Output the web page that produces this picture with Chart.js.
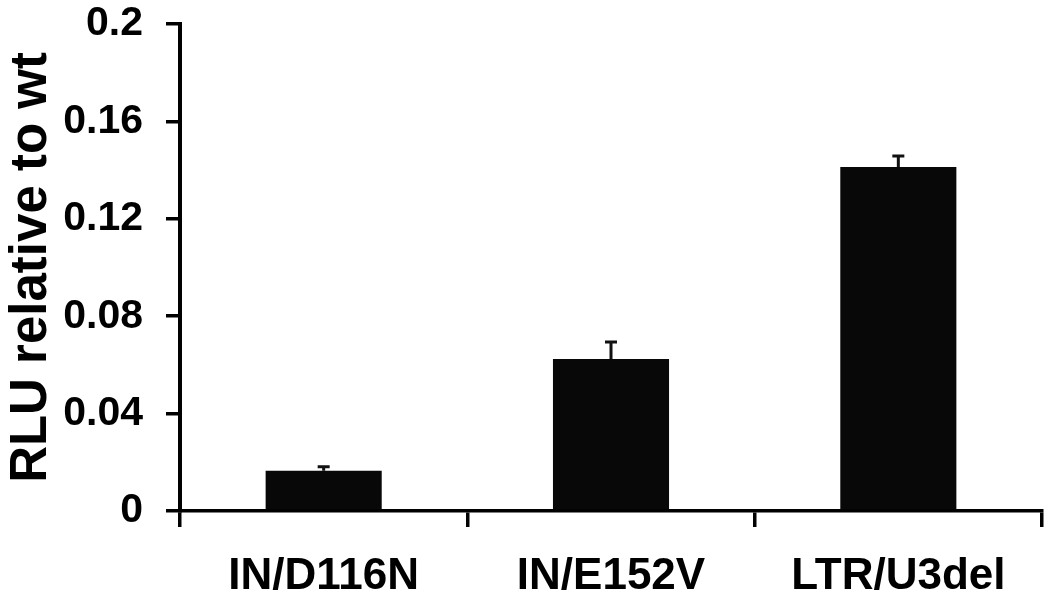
<!DOCTYPE html>
<html>
<head>
<meta charset="utf-8">
<script src="https://cdn.jsdelivr.net/npm/chart.js@4/dist/chart.umd.min.js"></script>
<style>
  html, body { margin: 0; padding: 0; background: #ffffff; }
  #wrap { width: 1050px; height: 600px; position: relative; }
</style>
</head>
<body>
<div id="wrap"><canvas id="c" width="1050" height="600"></canvas></div>
<script>
const categories = ['IN/D116N', 'IN/E152V', 'LTR/U3del'];
const rluValues = [0.0165, 0.0624, 0.1413];
const rluErrors = [0.0017, 0.0070, 0.0045];
const yMin = 0;
const yMax = 0.2;
const yStep = 0.04;
const yTitle = 'RLU relative to wt';

const FONT = '"Liberation Sans", Arial, Helvetica, sans-serif';

const errorBarPlugin = {
  id: 'errorBars',
  afterDatasetsDraw(chart) {
    const ctx = chart.ctx;
    const yScale = chart.scales.y;
    const meta = chart.getDatasetMeta(0);
    ctx.save();
    ctx.strokeStyle = '#111111';
    ctx.lineWidth = 3;
    meta.data.forEach((bar, i) => {
      const top = yScale.getPixelForValue(rluValues[i] + rluErrors[i]);
      const x = bar.x;
      ctx.beginPath();
      ctx.moveTo(x, bar.y);
      ctx.lineTo(x, top);
      ctx.moveTo(x - 6, top);
      ctx.lineTo(x + 6, top);
      ctx.stroke();
    });
    ctx.restore();
  }
};

new Chart(document.getElementById('c'), {
  type: 'bar',
  data: {
    labels: categories,
    datasets: [{
      data: rluValues,
      backgroundColor: '#080808',
      borderWidth: 0,
      categoryPercentage: 1.0,
      barPercentage: 0.404
    }]
  },
  options: {
    responsive: false,
    animation: false,
    devicePixelRatio: 1,
    layout: { padding: { left: 6, right: 8, top: 24, bottom: 0 } },
    plugins: {
      legend: { display: false },
      tooltip: { enabled: false }
    },
    scales: {
      x: {
        grid: {
          display: true,
          offset: true,
          drawOnChartArea: false,
          drawTicks: true,
          tickLength: 16,
          color: '#000000',
          lineWidth: 3.5
        },
        border: { display: true, color: '#000000', width: 3.5 },
        ticks: {
          color: '#000000',
          padding: 28,
          font: { family: FONT, size: 44, weight: 'bold', lineHeight: 1.0 }
        },
        afterFit(scale) { scale.height = 89; scale.paddingLeft = 0; scale.paddingRight = 0; }
      },
      y: {
        min: yMin,
        max: yMax,
        grid: {
          display: true,
          drawOnChartArea: false,
          drawTicks: true,
          tickLength: 14,
          color: '#000000',
          lineWidth: 3.5
        },
        border: { display: true, color: '#000000', width: 4 },
        ticks: {
          stepSize: yStep,
          color: '#000000',
          padding: 23,
          font: { family: FONT, size: 41, weight: 'bold', lineHeight: 1.0 },
          callback: (v) => String(Number(v.toFixed(2)))
        },
        title: {
          display: true,
          text: yTitle,
          color: '#000000',
          padding: { top: 0, bottom: 0 },
          font: { family: FONT, size: 51, weight: 'bold', lineHeight: 1.0 }
        },
        afterFit(scale) { scale.width = 174; scale.paddingTop = 0; scale.paddingBottom = 0; }
      }
    }
  },
  plugins: [errorBarPlugin]
});
</script>
</body>
</html>
